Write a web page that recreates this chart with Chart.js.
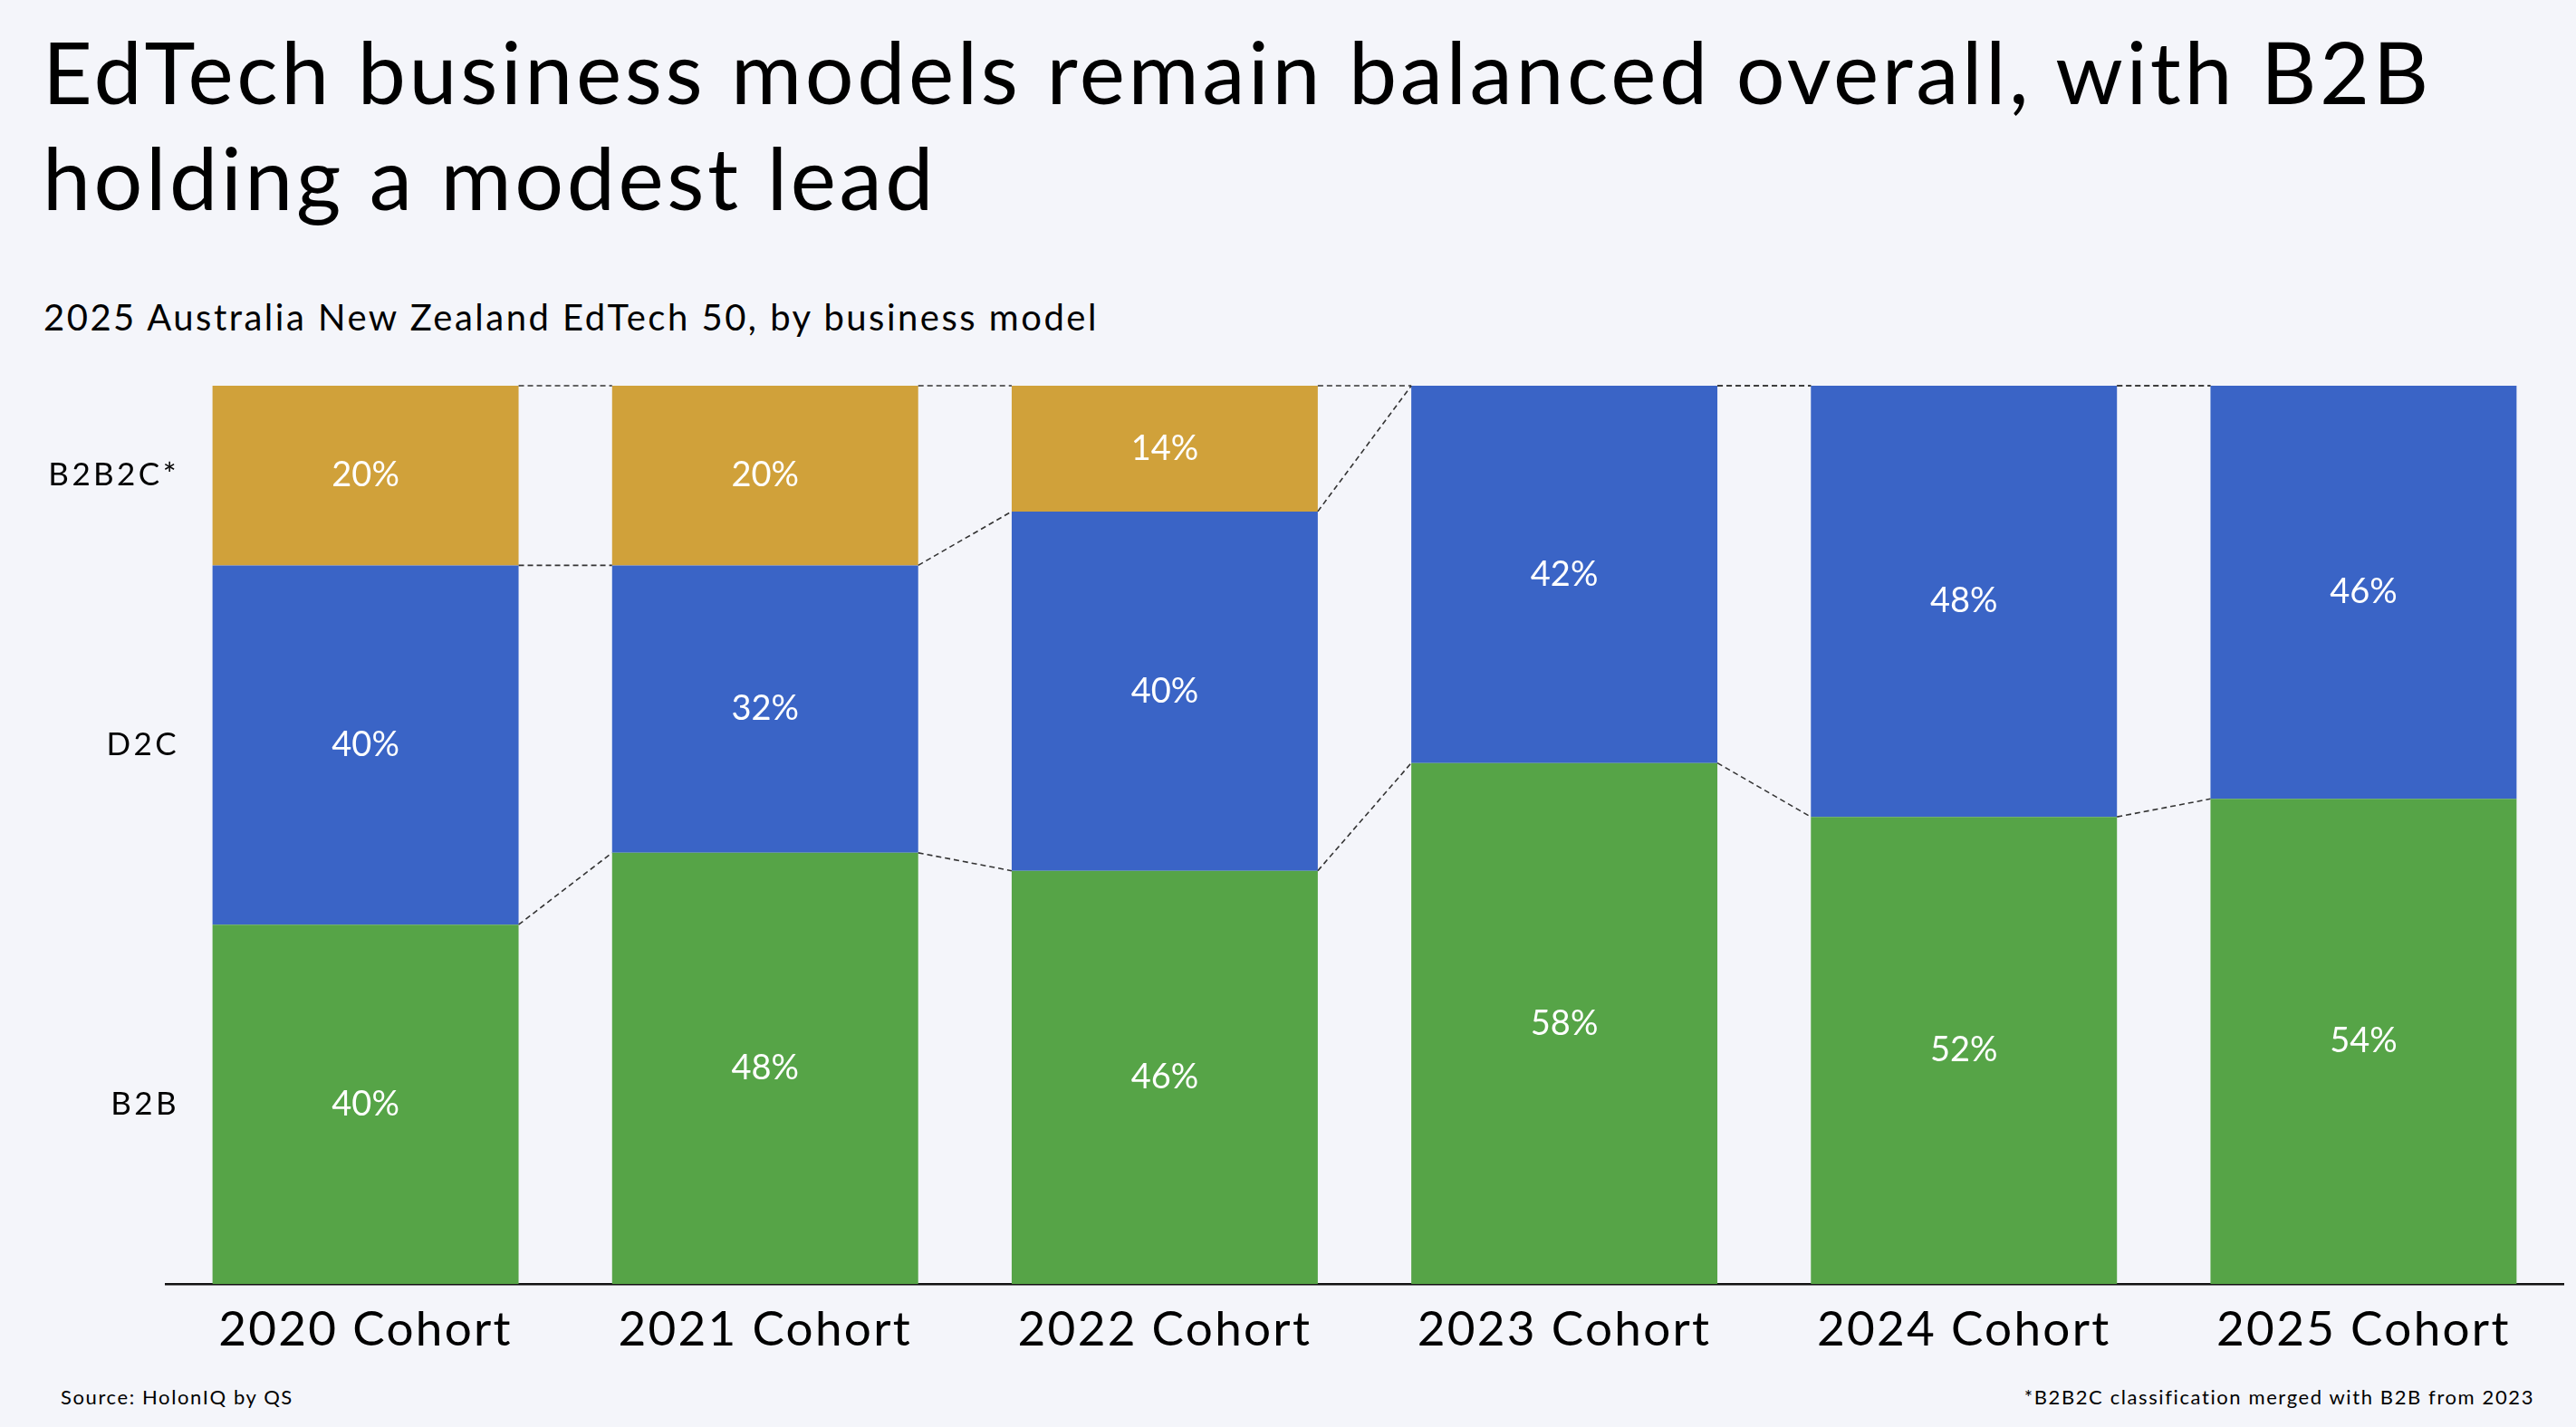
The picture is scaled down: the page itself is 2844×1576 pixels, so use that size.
<!DOCTYPE html>
<html lang="en">
  <head>
    <meta charset="UTF-8" />
    <title>EdTech business models</title>
    <script src="https://cdn.jsdelivr.net/npm/chart.js"></script>
    <style>
      html, body { margin: 0; padding: 0; background: #f4f5fa; }
      body { width: 2844px; height: 1576px; position: relative; overflow: hidden; font-family: Lato, sans-serif; color: #000; }
      .title { position: absolute; left: 47px; top: 20px; font-size: 95px; line-height: 117px; letter-spacing: 3.6px; white-space: nowrap; }
      .subtitle { position: absolute; left: 48px; top: 326px; font-size: 40px; line-height: 48px; letter-spacing: 2.5px; }
      .note { position: absolute; top: 1528px; font-size: 22px; line-height: 30px; letter-spacing: 1.6px; }
      #wrap { position: absolute; left: 0; top: 380px; width: 2844px; height: 1130px; }
    </style>
  </head>
  <body>
    <div class="title">EdTech business models remain balanced overall, with B2B<br />holding a modest lead</div>
    <div class="subtitle">2025 Australia New Zealand EdTech 50, by business model</div>
    <div id="wrap"><canvas id="modelChart"></canvas></div>
    <div class="note" style="left: 67px">Source: HolonIQ by QS</div>
    <div class="note" style="right: 46px">*B2B2C classification merged with B2B from 2023</div>

    <script>
      // data
      const cohorts = ["2020 Cohort", "2021 Cohort", "2022 Cohort", "2023 Cohort", "2024 Cohort", "2025 Cohort"];
      const b2b = [40, 48, 46, 58, 52, 54];
      const d2c = [40, 32, 40, 42, 48, 46];
      const b2b2c = [20, 20, 14, 0, 0, 0];
      const rowNames = ["B2B2C*", "D2C", "B2B"];
      const rowTicks = [90, 60, 20];

      // spacing for the canvas tick text
      const spacing = {
        id: "spacing",
        beforeDraw(chart) { chart.ctx.letterSpacing = "2.3px"; },
        afterDraw(chart) { chart.ctx.letterSpacing = "0px"; },
      };

      // dashed connectors between neighbouring bars
      const connectors = {
        id: "connectors",
        afterDatasetsDraw(chart) {
          const ctx = chart.ctx;
          const y = chart.scales.y;
          const bars = chart.getDatasetMeta(0).data;
          ctx.save();
          ctx.strokeStyle = "#333";
          ctx.lineWidth = 1.6;
          ctx.setLineDash([6, 4]);
          for (let i = 0; i < cohorts.length - 1; i++) {
            const a = bars[i], b = bars[i + 1];
            const xa = a.x + a.width / 2, xb = b.x - b.width / 2;
            const levels = [
              [b2b[i], b2b[i + 1]],
              [b2b[i] + d2c[i], b2b[i + 1] + d2c[i + 1]],
              [100, 100],
            ];
            levels.forEach(([va, vb]) => {
              ctx.beginPath();
              ctx.moveTo(xa, y.getPixelForValue(va));
              ctx.lineTo(xb, y.getPixelForValue(vb));
              ctx.stroke();
            });
          }
          ctx.restore();
        },
      };

      // percentage labels in each segment + row names on the left
      const textLabels = {
        id: "textLabels",
        afterDatasetsDraw(chart) {
          const ctx = chart.ctx;
          const y = chart.scales.y;
          ctx.save();
          ctx.letterSpacing = "0px";
          ctx.fillStyle = "#fff";
          ctx.font = "38px Lato";
          ctx.textAlign = "center";
          ctx.textBaseline = "middle";
          chart.data.datasets.forEach((ds, di) => {
            chart.getDatasetMeta(di).data.forEach((bar, i) => {
              const v = ds.data[i];
              if (!v) return;
              ctx.fillText(v + "%", bar.x, (bar.y + bar.base) / 2);
            });
          });

          ctx.fillStyle = "#000";
          ctx.font = "35px Lato";
          ctx.letterSpacing = "3.4px";
          ctx.textAlign = "right";
          rowNames.forEach((name, i) => {
            ctx.fillText(name, 198, y.getPixelForValue(rowTicks[i]));
          });
          ctx.restore();
        },
      };

      const ctx = document.getElementById("modelChart").getContext("2d");
      const modelChart = new Chart(ctx, {
        type: "bar",
        data: {
          labels: cohorts,
          datasets: [
            { label: "B2B", data: b2b, backgroundColor: "#56a447" },
            { label: "D2C", data: d2c, backgroundColor: "#3a64c6" },
            { label: "B2B2C", data: b2b2c, backgroundColor: "#d0a13a" },
          ],
        },
        options: {
          responsive: true,
          maintainAspectRatio: false,
          animation: false,
          devicePixelRatio: 1,
          layout: { padding: { top: 46, right: 14, left: 0, bottom: 0 } },
          datasets: { bar: { categoryPercentage: 1, barPercentage: 0.766, borderWidth: 0 } },
          plugins: { legend: { display: false }, tooltip: { enabled: false } },
          scales: {
            x: {
              stacked: true,
              grid: { display: false, drawTicks: false },
              border: { display: true, color: "#111", width: 2.5 },
              ticks: { color: "#000", font: { family: "Lato", size: 53 }, padding: 19 },
              afterFit(scale) { scale.height = 92; },
            },
            y: {
              stacked: true,
              min: 0,
              max: 100,
              grid: { display: false, drawTicks: false },
              border: { display: false },
              ticks: { display: false },
              afterFit(scale) { scale.width = 183; },
            },
          },
        },
        plugins: [spacing, connectors, textLabels],
      });
    </script>
  </body>
</html>
